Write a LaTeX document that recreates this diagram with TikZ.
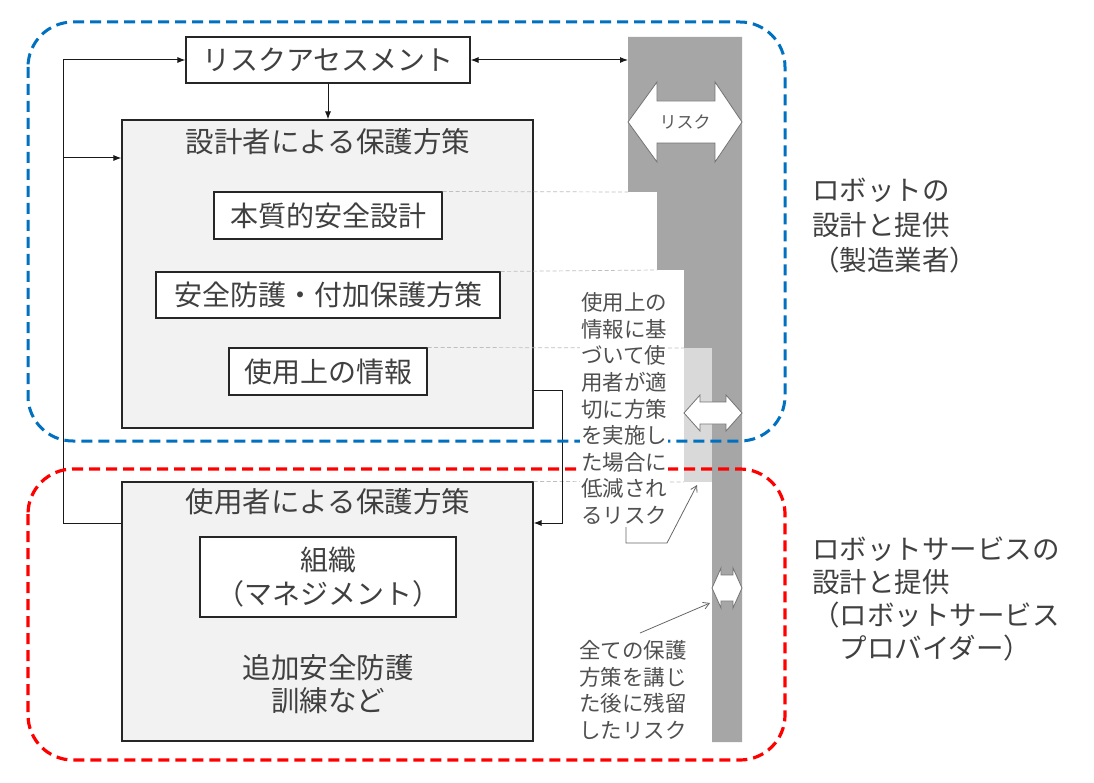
\documentclass[tikz,border=0pt]{standalone}
\usepackage{fontspec}
\setmainfont{Noto Sans CJK JP}
\usetikzlibrary{arrows.meta}
\definecolor{txt}{HTML}{404040}
\definecolor{stxt}{HTML}{505050}
\definecolor{darkg}{HTML}{A6A6A6}
\definecolor{lightg}{HTML}{D9D9D9}
\definecolor{boxfill}{HTML}{F2F2F2}
\definecolor{dblue}{HTML}{0070C0}
\definecolor{dred}{HTML}{FF0000}
\begin{document}
\begin{tikzpicture}[x=1pt,y=-1pt,
  box/.style={draw=black!85, line width=1.1pt, fill=white, text=txt, inner sep=0pt, font=\fontsize{28}{34}\selectfont, align=center},
  bigbox/.style={draw=black!85, line width=1.1pt, fill=boxfill, inner sep=0pt},
  lbl/.style={text=txt, inner sep=0pt, font=\fontsize{28.5}{33}\selectfont, align=center},
  side/.style={text=stxt, fill=white, inner sep=1pt, font=\fontsize{21.5}{26.6}\selectfont, align=left},
  region/.style={text=txt, inner sep=0pt, anchor=west, font=\fontsize{27.5}{35}\selectfont, align=left},
  arr/.style={line width=1pt, draw=black!90, -{Latex[length=8pt,width=6pt]}},
  arrboth/.style={line width=1pt, draw=black!90, {Latex[length=8pt,width=6pt]}-{Latex[length=8pt,width=6pt]}},
  guide/.style={draw=black!25, line width=0.7pt, dash pattern=on 4pt off 2.5pt},
  dbl/.style={fill=white, draw=black!55, line width=0.8pt, line join=miter},
  callout/.style={draw=black!60, line width=0.8pt, -{Straight Barb[length=6pt,width=7pt]}},
  bluereg/.style={draw=dblue, line width=3pt, dash pattern=on 11pt off 6pt, rounded corners=45pt},
  redreg/.style={draw=dred, line width=3.2pt, dash pattern=on 11pt off 6pt, rounded corners=45pt}
]
\useasboundingbox (0,0) rectangle (1094,783);
\fill[white] (0,0) rectangle (1094,783);

% risk bar
\fill[darkg] (628,37) -- (742,37) -- (742,742) -- (712,742) -- (712,348) -- (684,348)
  -- (684,270) -- (657,270) -- (657,192) -- (628,192) -- cycle;
\fill[lightg] (684,348) rectangle (712,482);

% main boxes
\node[bigbox, minimum width=411pt, minimum height=308pt] (des) at (327.5,274) {};
\node[bigbox, minimum width=411pt, minimum height=259pt] (usr) at (327.5,611.5) {};
\node[box, minimum width=284pt, minimum height=46pt] (ra) at (328,60) {リスクアセスメント};
\node[lbl] (destitle) at (328,142) {設計者による保護方策};
\node[box, minimum width=228pt, minimum height=47pt] (inh) at (328,215.5) {本質的安全設計};
\node[box, minimum width=344pt, minimum height=46pt] (saf) at (328,295) {安全防護・付加保護方策};
\node[box, minimum width=198pt, minimum height=47pt] (inf) at (328,371.5) {使用上の情報};
\node[lbl] (usrtitle) at (328,502) {使用者による保護方策};
\node[box, minimum width=256pt, minimum height=80pt] (org) at (328,577) {組織\\（マネジメント）};
\node[lbl] (add) at (328,684) {追加安全防護\\訓練など};

% guide lines
\coordinate (g1) at (628,192);
\coordinate (g2) at (657,270);
\coordinate (g3) at (684,348);
\coordinate (g4) at (684,482);
\draw[guide] (inh.north east) -- (g1);
\draw[guide] (saf.north east) -- (g2);
\draw[guide] (inf.north east) -- (g3);
\draw[guide] (usr.north east) -- (g4);

% connectors
\coordinate (L1) at (63,523);
\coordinate (L2) at (63,60);
\coordinate (L3) at (63,158);
\coordinate (R1) at (562,390);
\coordinate (R2) at (562,523);
\coordinate (B0) at (628,60);
\draw[arr] (ra.south) -- (ra.south |- des.north);
\draw[arr] (usr.west |- L1) -- (L1) -- (L2) -- (ra.west);
\draw[arr] (L3) -- (des.west |- L3);
\draw[arr] (des.east |- R1) -- (R1) -- (R2) -- (usr.east |- R2);
\draw[arrboth] (ra.east) -- (B0);

% region outlines
\draw[bluereg] (28,22) rectangle (785,441);
\draw[redreg] (28,469) rectangle (785,760);

% double arrows
\draw[dbl] (628,122) -- (657,82) -- (657,101) -- (715,101) -- (715,82) -- (742,122)
  -- (715,162) -- (715,143) -- (657,143) -- (657,162) -- cycle;
\node[text=black!65, inner sep=0pt, font=\fontsize{17}{17}\selectfont] (risk) at (685,122) {リスク};
\draw[dbl] (684,413) -- (700,395) -- (700,402) -- (726,402) -- (726,395) -- (742,413)
  -- (726,431) -- (726,424) -- (700,424) -- (700,431) -- cycle;
\draw[dbl] (712,588) -- (721,568) -- (721,575) -- (733,575) -- (733,568) -- (742,588)
  -- (733,608) -- (733,601) -- (721,601) -- (721,608) -- cycle;

% side texts
\node[side] (t1) at (624,408.5) {使用上の\\情報に基\\づいて使\\用者が適\\切に方策\\を実施し\\た場合に\\低減され\\るリスク};
\node[side] (t2) at (633,690) {全ての保護\\方策を講じ\\た後に残留\\したリスク};
\coordinate (c1a) at (626,527);
\coordinate (c1b) at (626,543);
\coordinate (c1c) at (667,543);
\coordinate (c1d) at (697,485);
\draw[callout] (c1a) -- (c1b) -- (c1c) -- (c1d);
\coordinate (c2a) at (640,633);
\coordinate (c2b) at (710,603);
\draw[callout] (c2a) -- (c2b);

% region labels
\node[region] (lab1) at (812,226) {ロボットの\\設計と提供\\（製造業者）};
\node[region, font=\fontsize{27.5}{33}\selectfont] (lab2) at (812,598.5) {ロボットサービスの\\設計と提供\\（ロボットサービス\\\hspace*{1em}プロバイダー）};
\end{tikzpicture}
\end{document}
